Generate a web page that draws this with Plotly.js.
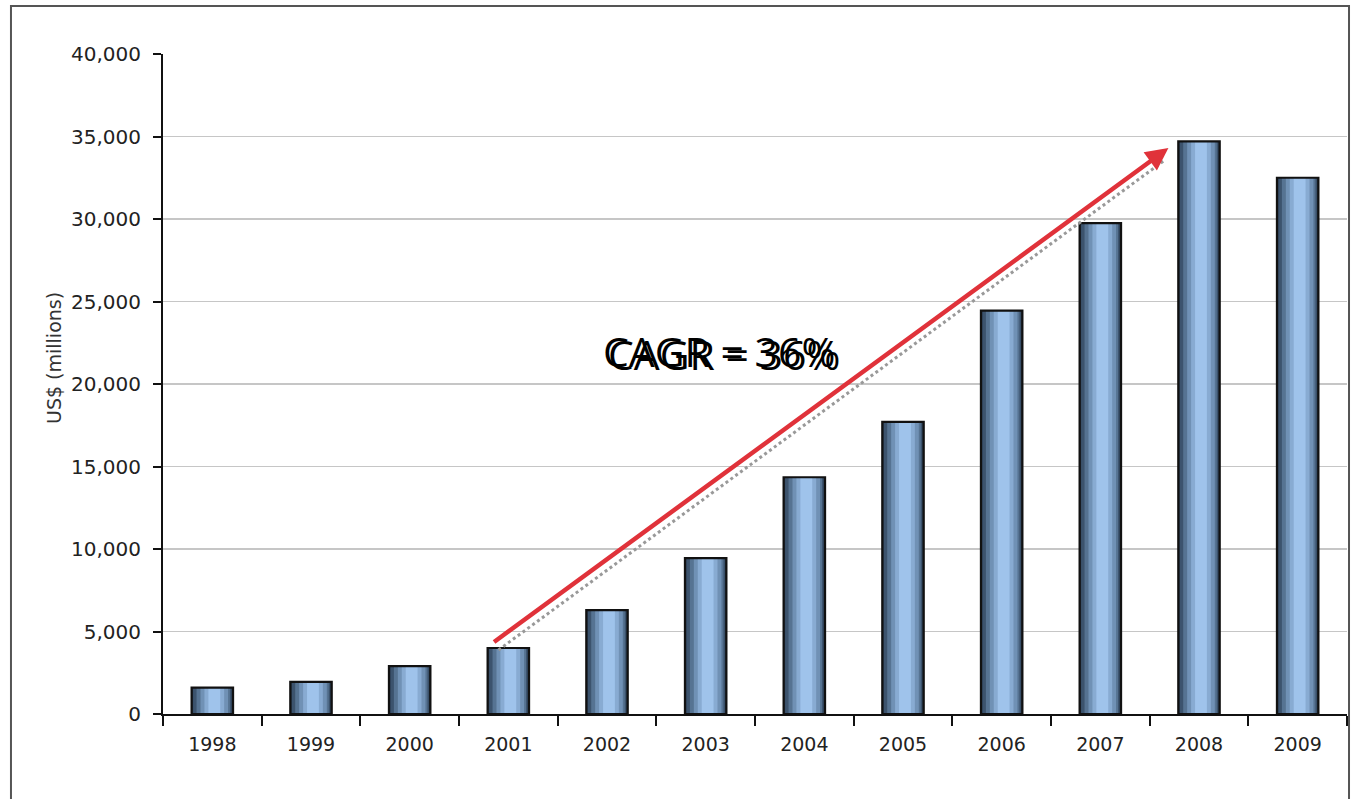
<!DOCTYPE html>
<html>
<head>
<meta charset="utf-8">
<script src="https://cdn.plot.ly/plotly-3.0.1.min.js"></script>
<style>html,body{margin:0;padding:0;background:#fff;}#chart{width:1365px;height:799px;}</style>
</head>
<body>
<div id="chart"></div>
<script>
const years = ['1998','1999','2000','2001','2002','2003','2004','2005','2006','2007','2008','2009'];
const revenue = [1600, 1950, 2900, 4000, 6300, 9450, 14350, 17700, 24450, 29750, 34700, 32500];
const yTicks = [0, 5000, 10000, 15000, 20000, 25000, 30000, 35000, 40000];
const yTickLabels = ['0', '5,000', '10,000', '15,000', '20,000', '25,000', '30,000', '35,000', '40,000'];
const yTitle = 'US$ (millions)';
const cagrLabel = 'CAGR = 36%';
const arrowStart = {x: 2.84, y: 4300};
const arrowEnd = {x: 9.69, y: 34300};
const shadowStart = {x: 2.90, y: 3880};
const shadowEnd = {x: 9.66, y: 33600};

// gradient layers: [width, offset, color]
const layers = [
  [0.42, -0.21, '#26364a'],
  [0.39, -0.195, '#3c536d'],
  [0.34, -0.16, '#567392'],
  [0.28, -0.12, '#7091b5'],
  [0.20, -0.08, '#88abd2'],
  [0.12, -0.04, '#9fc3eb']
];

const traces = layers.map((l, i) => ({
  type: 'bar',
  x: years,
  y: revenue,
  width: l[0],
  offset: l[1],
  marker: {color: l[2], line: {color: l[2], width: 0}},
  hoverinfo: 'skip',
  showlegend: false
}));
traces.push({
  type: 'bar', x: years, y: revenue, width: 0.42, offset: -0.21,
  marker: {color: 'rgba(0,0,0,0)', line: {color: '#111', width: 2.2}},
  hoverinfo: 'skip', showlegend: false
});

const layout = {
  width: 1365, height: 799,
  margin: {l: 163, r: 18, t: 54, b: 85},
  paper_bgcolor: '#fff', plot_bgcolor: '#fff',
  barmode: 'overlay',
  font: {family: 'DejaVu Sans, Liberation Sans, Arial, sans-serif', color: '#222', size: 19},
  xaxis: {
    type: 'category',
    showline: true, linecolor: '#111', linewidth: 2,
    ticks: 'outside', ticklen: 10, tickcolor: '#111', tickwidth: 2,
    tickson: 'boundaries',
    showgrid: false,
    tickfont: {size: 19, color: '#222'},
    ticklabelstandoff: 12,
    range: [-0.5, 11.5]
  },
  yaxis: {
    range: [0, 40000],
    tickvals: yTicks, ticktext: yTickLabels,
    showline: true, linecolor: '#111', linewidth: 2,
    ticks: 'outside', ticklen: 8, tickcolor: '#111', tickwidth: 2,
    showgrid: true, gridcolor: '#c6c6c6', gridwidth: 1.3,
    zeroline: false,
    tickfont: {size: 20, color: '#222'},
    ticklabelstandoff: 8
  },
  shapes: [
    {type: 'rect', xref: 'paper', yref: 'paper', x0: -0.1284, x1: 1.0017, y0: -0.14, y1: 1.0727,
     line: {color: '#555', width: 2}, fillcolor: 'rgba(0,0,0,0)', layer: 'above'},
    {type: 'line', xref: 'x', yref: 'y', x0: shadowStart.x, y0: shadowStart.y, x1: shadowEnd.x, y1: shadowEnd.y,
     line: {color: '#999', width: 3, dash: 'dot'}, layer: 'above'}
  ],
  annotations: [
    {xref: 'paper', yref: 'paper', x: (41 - 163) / 1184, y: (714 - 358) / 660,
     text: yTitle, textangle: -90, showarrow: false,
     font: {size: 19, color: '#333'}},
    {xref: 'x', yref: 'y', axref: 'x', ayref: 'y',
     x: arrowEnd.x, y: arrowEnd.y, ax: arrowStart.x, ay: arrowStart.y,
     text: '', showarrow: true, arrowhead: 2, arrowsize: 1, arrowwidth: 4.5, arrowcolor: '#e0323a'},
    {xref: 'paper', yref: 'paper', x: (721 - 163) / 1184, y: (714 - 352) / 660,
     text: cagrLabel, showarrow: false, xshift: 3, yshift: -2,
     font: {family: 'Open Sans, Liberation Sans, sans-serif', size: 41, color: '#000'}},
    {xref: 'paper', yref: 'paper', x: (721 - 163) / 1184, y: (714 - 352) / 660,
     text: cagrLabel, showarrow: false, xshift: -2, yshift: 1,
     font: {family: 'Open Sans, Liberation Sans, sans-serif', size: 41, color: '#000'}}
  ]
};

Plotly.newPlot('chart', traces, layout, {displayModeBar: false, staticPlot: true});
</script>
</body>
</html>
